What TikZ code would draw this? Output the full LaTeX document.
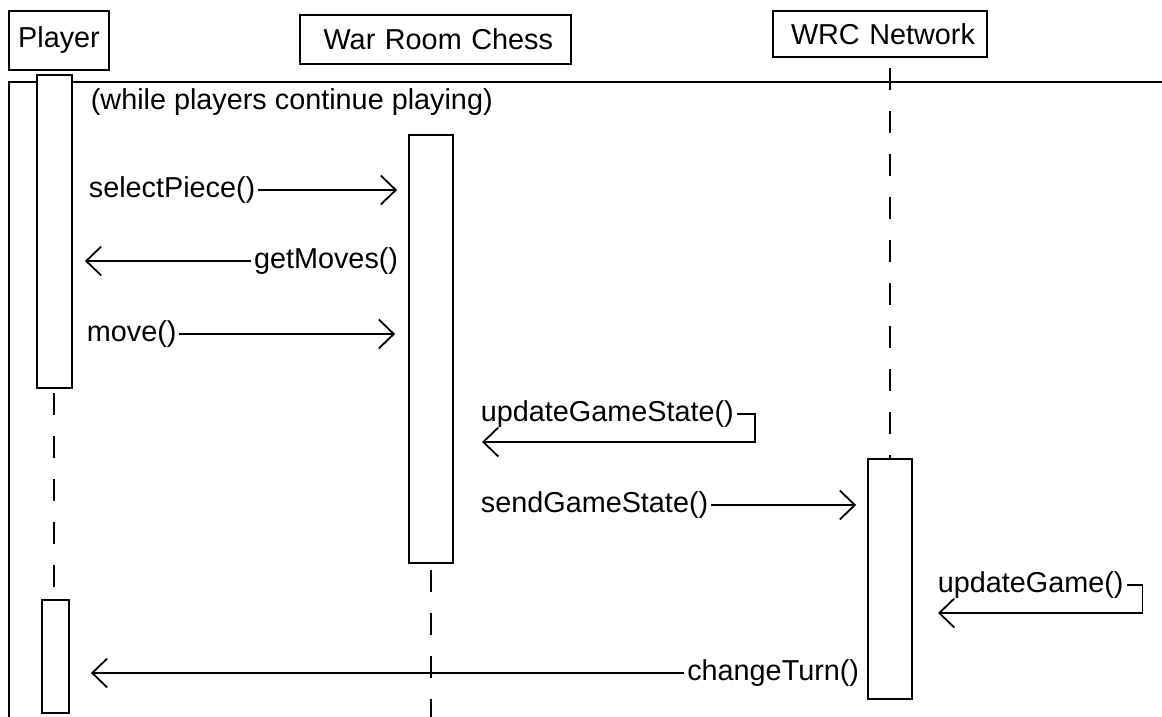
\documentclass[tikz,border=0pt]{standalone}
\usepackage{fontspec}
\setmainfont{Liberation Sans}
\usetikzlibrary{arrows.meta,calc}
\begin{document}
\begin{tikzpicture}[x=1pt,y=-1pt, line width=1.8pt,
  every node/.style={font=\fontsize{28.8}{34}\selectfont},
  objbox/.style={draw, inner ysep=0pt},
  act/.style={draw, fill=white, inner sep=0pt},
  lifeline/.style={dash pattern=on 22pt off 21pt},
  msg/.style={-{Straight Barb[length=15pt,width=29pt]}},
  lbl/.style={inner xsep=2pt, inner ysep=0pt}]
\useasboundingbox (0,0) rectangle (1162,717);

% object boxes
\node[objbox, minimum width=100, minimum height=59] (player) at (59,40.5) {Player};
\node[objbox, minimum height=49, text width=235, align=right, inner xsep=18pt] (chess) at (435.5,39.5) {War Room Chess};
\node[objbox, minimum height=46, text width=190, align=right, inner xsep=12pt] (net) at (880,34) {WRC Network};

% frame
\coordinate (ftl) at (9,82);
\draw (1170,82) -- (ftl) -- (9,725);
\node[anchor=west, inner sep=0pt] (loop) at (90,102) {(while players continue playing)};

\coordinate (cend) at (431,722);

% lifelines
\draw[lifeline, dash phase=38pt] (54,388) -- (54,600);
\draw[lifeline, dash phase=36pt] (431,563) -- (cend);
\draw[lifeline, dash phase=32pt] (890,57) -- (890,459);

% activations
\node[act, minimum width=35, minimum height=313] (pact1) at (54.5,231.5) {};
\node[act, minimum width=44, minimum height=428] (cact) at (431,349) {};
\node[act, minimum width=44, minimum height=240] (nact) at (890,579) {};
\node[act, minimum width=27, minimum height=113] (pact2) at (55.5,656.5) {};

% messages
\node[lbl, anchor=west] (m1) at (86,190) {selectPiece()};
\draw[msg, shorten >=11pt] (m1.east) -- (m1.east -| cact.west);

\node[lbl, anchor=east] (m2) at (401,261) {getMoves()};
\draw[msg, shorten >=12pt] (m2.west) -- (m2.west -| pact1.east);

\node[lbl, anchor=west] (m3) at (84,334) {move()};
\draw[msg, shorten >=13pt] (m3.east) -- (m3.east -| cact.west);

\node[lbl, anchor=west] (m4) at (478,414) {updateGameState()};
\draw[msg] (m4.east) -- ++(18,0) -- ++(0,28) -- ($(m4.west)+(4,28)$);

\node[lbl, anchor=west] (m5) at (478,505) {sendGameState()};
\draw[msg, shorten >=11pt] (m5.east) -- (m5.east -| nact.west);

\node[lbl, anchor=west] (m6) at (935,585) {updateGame()};
\draw[msg] (m6.east) -- ++(16,0) -- ++(0,28) -- ($(m6.west)+(3,28)$);

\node[lbl, anchor=east] (m7) at (862,673) {changeTurn()};
\draw[msg, shorten >=21pt] (m7.west) -- (m7.west -| pact2.east);
\end{tikzpicture}
\end{document}
